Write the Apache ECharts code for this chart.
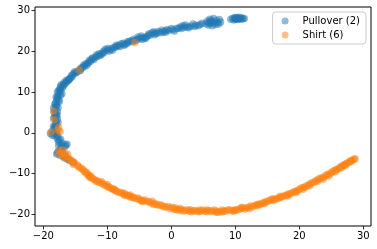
<!DOCTYPE html>
<html>
<head>
<meta charset="utf-8">
<script src="https://cdn.jsdelivr.net/npm/echarts@6/dist/echarts.min.js"></script>
<style>html,body{margin:0;padding:0;background:#fff}#c{width:377px;height:249px}</style>
</head>
<body>
<div id="c"></div>
<script>
const seriesNames = ['Pullover (2)', 'Shirt (6)'];
const xTicks = [-20, -10, 0, 10, 20, 30];
const yTicks = [-20, -10, 0, 10, 20, 30];

const pulloverPoints = [
  [9.3,27.9],[9.6,28.1],[9.8,27.7],[10.0,28.2],[10.1,27.9],[10.3,28.3],[10.4,27.8],[10.6,28.1],[10.7,28.4],[10.9,27.9],[11.0,28.2],[11.2,28.0],[11.4,28.1],[10.2,28.0],[9.9,28.3],
  [5.4,26.8],[5.6,27.4],[5.8,26.5],[6.0,27.9],[6.1,26.9],[6.3,27.3],[6.4,26.3],[6.6,28.1],[6.7,27.0],[6.9,26.6],[7.0,27.6],[7.2,27.1],[7.4,26.7],[7.5,27.8],[7.7,27.2],[6.2,27.6],[5.9,27.1],
  [4.5,26.6],[3.8,26.4],[3.0,26.2],[2.5,26.0],[2.0,25.9],[1.4,26.0],[0.8,25.6],[0.2,25.3],[-0.4,25.1],[-1.0,25.0],[-1.7,24.6],[-2.3,24.4],[-2.8,24.8],[-3.3,24.0],[-3.9,23.6],[-4.4,23.4],[-5.0,23.2],[-5.6,22.7],[-6.3,22.6],[-6.9,22.0],[-7.5,22.0],[-8.2,21.5],[-8.8,21.0],[-9.4,20.6],[-10.0,20.3],[-10.5,19.7],[-11.0,19.2],[-11.6,18.8],[-12.1,18.0],[-12.6,17.6],[-13.1,17.0],[-13.6,16.3],[-14.1,15.9],[-14.6,15.1],[-15.0,14.6],[-15.5,13.8],[-15.9,13.3],[-16.3,12.6],[-16.7,11.9],[-17.0,11.1],[-17.3,10.5],[-17.5,9.8],[-17.8,9.0],[-17.9,8.2],[-18.1,7.3],[-18.0,6.5],[-18.2,5.6],[-18.1,4.7],[-18.2,3.8],[-18.0,2.9],[-18.1,2.0],[-18.3,1.2],[-18.6,0.4],[-18.9,-0.2],[-18.2,-0.8],[-17.8,-1.5],[-17.6,-2.3],[-17.2,-3.0],[-16.3,-2.8],[-17.3,-4.0],[-17.8,-4.9],[-17.4,-5.5],[-16.6,-6.2],[-15.9,-6.8],[-15.3,-7.3],
  [4.2,26.3],[3.4,26.7],[2.7,25.8],[1.8,26.3],[1.1,25.7],[0.5,25.0],[-0.7,25.3],[-1.3,24.7],[-2.0,24.9],[-2.6,24.1],[-3.0,24.5],[-3.6,23.9],[-4.2,23.1],[-4.7,23.8],[-5.3,22.9],[-5.9,23.0],[-6.6,22.3],[-7.2,21.7],[-7.8,21.9],[-8.5,21.2],[-9.1,20.9],[-9.7,20.1],[-10.3,20.5],[-10.8,19.5],[-11.3,19.4],[-11.9,18.5],[-12.4,18.2],[-12.9,17.3],[-13.4,16.9],[-13.9,16.0],[-14.3,15.5],[-14.8,14.9],[-15.3,14.5],[-15.7,13.5],[-16.1,12.9],[-16.5,12.2],[-16.9,11.5],[-17.2,11.8],[-17.6,10.3],[-17.1,9.6],[-17.7,8.6],[-17.5,7.7],[-17.9,6.9],[-18.4,6.1],[-17.8,5.2],[-17.9,4.2],[-17.8,3.4],[-17.7,2.5],[-18.4,1.6],[-17.9,0.8],[-18.4,-0.1],[-17.9,-0.5],[-17.5,-1.9],[-17.0,-2.6],[-16.6,-3.4],[-17.6,-4.5],[-17.0,-4.8],[-16.9,-5.8],[-16.2,-6.5],
  [4.8,26.9],[3.6,26.1],[2.2,26.5],[1.6,25.6],[0.0,25.6],[-0.9,24.7],[-1.5,25.2],[-2.5,24.6],[-3.5,24.3],[-4.0,23.3],[-4.6,23.0],[-5.2,23.5],[-6.0,22.4],[-6.8,22.4],[-7.4,21.5],[-8.0,21.2],[-8.6,21.5],[-9.2,20.3],[-9.9,20.7],[-10.6,20.0],[-11.2,18.9],[-11.7,19.1],[-12.3,18.4],[-12.8,17.8],[-13.2,16.6],[-13.7,16.6],[-14.2,15.3],[-15.1,15.0],[-15.6,14.1],[-16.0,13.0],[-16.4,12.9],[-16.8,12.3],[-17.3,11.4],[-17.4,10.9],[-17.8,10.0],[-17.3,9.2],[-18.0,8.7],[-17.6,8.0],[-18.2,7.0],[-17.7,6.2],[-18.3,5.0],[-17.9,4.5],[-18.4,3.6],[-18.0,2.2],[-18.2,1.4],[-18.0,0.2],[-18.6,-0.6],[-17.7,-0.9],[-17.3,-1.6],[-17.6,-3.2],[-16.5,-3.0],[-17.1,-3.6],[-17.9,-5.2],[-16.5,-5.7]
];

const shirtPoints = [
  [-5.7,22.2],[-14.4,15.4],[-18.4,5.3],[-18.3,3.2],[-17.7,0.7],[-17.4,0.3],[-18.8,0.2],[-17.6,1.3],
  [-17.6,-4.4],[-17.2,-4.9],[-17.5,-5.3],[-16.9,-5.6],[-16.6,-5.1],[-16.4,-6.0],[-16.0,-6.4],[-15.6,-6.9],[-15.1,-7.4],[-14.7,-7.9],[-14.3,-8.6],[-13.8,-9.1],[-13.4,-9.9],[-13.0,-10.3],[-12.8,-10.9],[-12.5,-11.0],[-12.0,-11.5],[-11.6,-11.8],[-11.1,-12.3],[-10.7,-12.5],[-10.2,-13.0],[-9.7,-13.4],[-9.2,-13.9],[-8.7,-14.2],[-8.2,-14.6],[-7.6,-15.0],[-7.1,-15.2],[-6.6,-15.6],[-6.0,-15.8],[-5.5,-16.2],[-5.0,-16.4],[-4.4,-16.7],[-3.8,-16.9],[-3.2,-17.2],[-2.6,-17.4],[-2.0,-17.8],[-1.4,-18.0],[-0.8,-18.3],[-0.2,-18.6],[0.4,-18.7],[1.0,-18.9],[1.6,-18.8],[2.2,-19.1],[2.8,-19.2],[3.4,-19.2],[4.0,-19.3],[4.6,-19.2],[5.2,-19.3],[5.8,-19.1],[6.4,-19.3],[7.0,-19.2],[7.6,-19.4],[8.2,-19.2],[8.8,-19.0],[9.4,-19.1],[10.0,-18.9],[10.6,-18.8],[11.2,-18.5],[11.8,-18.4],[12.4,-18.0],[13.0,-17.9],[13.6,-17.5],[14.2,-17.3],[14.8,-16.9],[15.4,-16.6],[16.0,-16.6],[16.6,-16.1],[17.2,-15.8],[17.8,-15.4],[18.4,-15.0],[19.0,-14.6],[19.6,-14.3],[20.2,-13.6],[20.8,-13.4],[21.4,-12.8],[22.0,-12.3],[22.6,-11.8],[23.2,-11.2],[23.8,-10.9],[24.4,-10.2],[25.0,-9.8],[25.5,-9.2],[26.0,-8.9],[26.5,-8.3],[27.0,-7.8],[27.5,-7.4],[28.0,-6.9],[28.6,-6.5],
  [-17.0,-4.2],[-16.8,-6.1],[-15.8,-6.6],[-15.3,-7.8],[-14.5,-8.3],[-13.6,-9.5],[-12.9,-10.5],[-12.3,-11.3],[-11.4,-12.1],[-10.5,-12.8],[-9.9,-13.3],[-9.0,-13.8],[-8.5,-14.5],[-7.9,-14.7],[-7.3,-15.4],[-6.8,-15.4],[-6.3,-15.9],[-5.8,-16.0],[-4.7,-16.6],[-4.1,-16.5],[-3.5,-17.0],[-2.3,-17.6],[-1.1,-18.2],[0.1,-18.3],[0.7,-18.9],[1.3,-18.6],[1.9,-19.2],[2.5,-18.9],[3.1,-19.4],[3.7,-19.1],[4.3,-19.4],[4.9,-19.0],[5.5,-19.4],[6.1,-19.2],[6.7,-19.0],[7.3,-19.5],[7.9,-19.0],[8.5,-19.3],[9.1,-18.9],[9.7,-19.3],[10.3,-19.0],[10.9,-18.6],[11.5,-18.7],[12.1,-18.3],[12.7,-18.2],[13.3,-17.7],[13.9,-17.6],[14.5,-17.1],[15.1,-16.8],[15.7,-16.4],[16.3,-16.3],[16.9,-16.0],[17.5,-15.6],[18.1,-15.2],[18.7,-14.9],[19.3,-14.4],[19.9,-14.0],[20.5,-13.5],[21.1,-13.1],[21.7,-12.5],[22.3,-12.1],[22.9,-11.5],[23.5,-11.1],[24.1,-10.5],[24.7,-10.1],[25.2,-9.5],[25.8,-9.1],[26.3,-8.6],[26.8,-8.1],[27.3,-7.6],[27.8,-7.2],[28.3,-6.7],
  [-16.2,-5.3],[-15.4,-7.1],[-14.0,-8.8],[-13.2,-9.7],[-12.6,-10.6],[-11.8,-11.9],[-10.9,-12.0],[-10.0,-12.7],[-9.4,-13.6],[-8.9,-14.0],[-7.4,-14.8],[-6.4,-15.3],[-5.2,-16.0],[-4.6,-16.9],[-3.0,-16.8],[-2.8,-17.6],[-1.7,-17.7],[-0.5,-18.1],[0.6,-18.4],[1.4,-19.1],[3.0,-18.9],[4.4,-19.0],[5.6,-19.0],[7.0,-19.5],[8.0,-19.4],[9.9,-19.1],[11.0,-18.3],[12.2,-18.6],[13.5,-17.9],[14.6,-17.4],[15.9,-16.2],[17.0,-15.6],[18.2,-15.5],[19.5,-14.7],[20.6,-13.9],[21.6,-13.0],[22.8,-12.0],[23.7,-11.4],[24.6,-10.6],[25.6,-9.6],[26.6,-8.6],[27.2,-8.0],[28.1,-7.1],[28.7,-6.4]
];

const fmt = v => String(v).replace('-', '\u2212');
const font = 'DejaVu Sans';

const chart = echarts.init(document.getElementById('c'), null, {renderer: 'canvas'});
chart.setOption({
  animation: false,
  backgroundColor: '#fff',
  grid: {left: 35, right: 6, top: 7, bottom: 23, show: true, borderColor: '#000', borderWidth: 1, backgroundColor: 'transparent'},
  xAxis: {
    type: 'value', min: -21.3, max: 31.2,
    axisLine: {show: false, onZero: false},
    splitLine: {show: false},
    axisTick: {show: true, inside: false, length: 3.5, lineStyle: {color: '#000', width: 0.8}, customValues: xTicks},
    axisLabel: {customValues: xTicks, formatter: fmt, color: '#000', fontFamily: font, fontSize: 10, margin: 5}
  },
  yAxis: {
    type: 'value', min: -22.9, max: 30.9,
    axisLine: {show: false, onZero: false},
    splitLine: {show: false},
    axisTick: {show: true, inside: false, length: 3.5, lineStyle: {color: '#000', width: 0.8}, customValues: yTicks},
    axisLabel: {customValues: yTicks, formatter: fmt, color: '#000', fontFamily: font, fontSize: 10, margin: 5}
  },
  legend: {
    orient: 'vertical', right: 11, top: 12,
    data: seriesNames,
    icon: 'circle', itemWidth: 7, itemHeight: 7, itemGap: 4,
    padding: [4, 6, 4, 9],
    borderColor: '#ccc', borderWidth: 1, borderRadius: 3,
    backgroundColor: 'rgba(255,255,255,0.8)',
    textStyle: {fontFamily: font, fontSize: 10, color: '#000', padding: [0, 0, 0, 9]}
  },
  series: [
    {name: seriesNames[0], type: 'scatter', data: pulloverPoints, symbolSize: 7.5, itemStyle: {color: '#1f77b4', opacity: 0.5}},
    {name: seriesNames[1], type: 'scatter', data: shirtPoints, symbolSize: 7.5, itemStyle: {color: '#ff7f0e', opacity: 0.5}}
  ]
});
</script>
</body>
</html>
